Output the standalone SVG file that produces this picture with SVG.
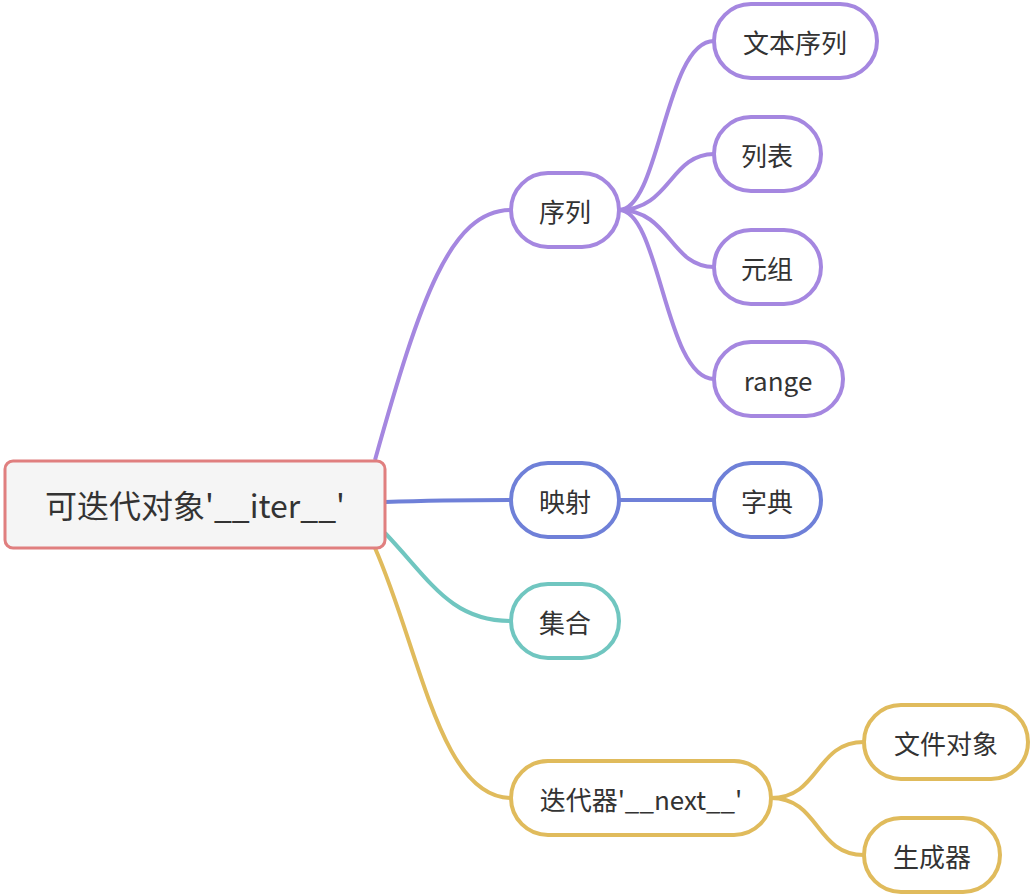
<svg xmlns="http://www.w3.org/2000/svg" width="1032" height="896" viewBox="0 0 1032 896">
<style>
text{font-family:"Noto Sans CJK SC","Noto Sans",sans-serif;font-size:26px;fill:#333;text-anchor:middle;dominant-baseline:central}
.n{fill:#fff;stroke-width:4}
.p{stroke:#a587e0}.b{stroke:#6f80d8}.t{stroke:#70c6c0}.y{stroke:#e0bb5c}
path{fill:none;stroke-width:4}
</style>
<rect width="1032" height="896" fill="#fff"/>
<g id="connectors">
<path class="p" d="M375 460 C420 300 450 210 511 210"/>
<path class="p" d="M619 210 C660 210 665 41 714 41"/>
<path class="p" d="M619 210 C670 210 670 154 714 154"/>
<path class="p" d="M619 210 C670 210 670 267 714 267"/>
<path class="p" d="M619 210 C660 210 665 379 714 379"/>
<path class="b" d="M385 502 C440 500 460 500 511 500"/>
<path class="b" d="M619 500 L714 500"/>
<path class="t" d="M385 533 C430 580 450 621 511 621"/>
<path class="y" d="M375 548 C420 650 440 798 511 798"/>
<path class="y" d="M771 798 C820 798 815 742 864 742"/>
<path class="y" d="M771 798 C820 798 815 855 864 855"/>
</g>
<g id="root"><rect x="5" y="461" width="380" height="87" rx="8" fill="#f5f5f5" stroke="#e07f7f" stroke-width="3"/><text x="195" y="504" style="font-size:32px">可迭代对象'__iter__'</text></g>
<g id="n1"><rect class="n p" x="511" y="173" width="108" height="74" rx="37"/><text x="565" y="210">序列</text></g>
<g id="n2"><rect class="n p" x="714" y="4" width="163" height="74" rx="37"/><text x="795" y="41">文本序列</text></g>
<g id="n3"><rect class="n p" x="714" y="117" width="107" height="74" rx="37"/><text x="767" y="154">列表</text></g>
<g id="n4"><rect class="n p" x="714" y="230" width="107" height="74" rx="37"/><text x="767" y="267">元组</text></g>
<g id="n5"><rect class="n p" x="714" y="342" width="129" height="74" rx="37"/><text x="778" y="379">range</text></g>
<g id="n6"><rect class="n b" x="511" y="463" width="108" height="74" rx="37"/><text x="565" y="500">映射</text></g>
<g id="n7"><rect class="n b" x="714" y="463" width="107" height="74" rx="37"/><text x="767" y="500">字典</text></g>
<g id="n8"><rect class="n t" x="511" y="584" width="108" height="74" rx="37"/><text x="565" y="621">集合</text></g>
<g id="n9"><rect class="n y" x="511" y="761" width="260" height="74" rx="37"/><text x="641" y="798">迭代器'__next__'</text></g>
<g id="n10"><rect class="n y" x="864" y="705" width="164" height="74" rx="37"/><text x="946" y="742">文件对象</text></g>
<g id="n11"><rect class="n y" x="864" y="818" width="136" height="74" rx="37"/><text x="932" y="855">生成器</text></g>
</svg>
